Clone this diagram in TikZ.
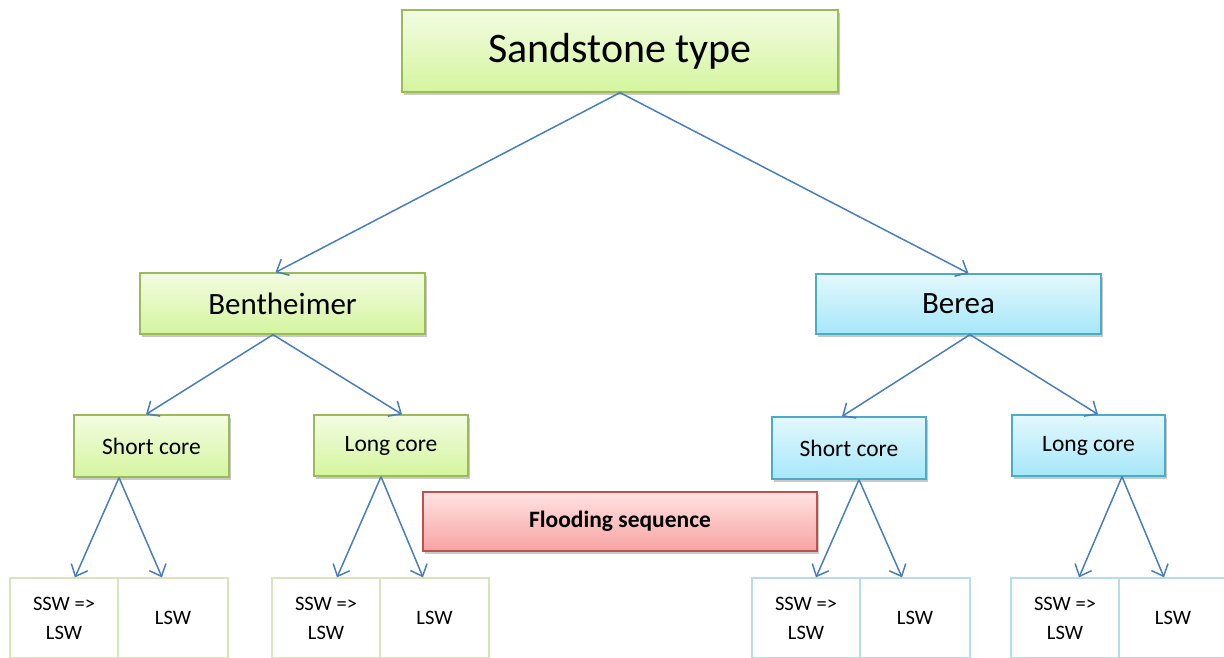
\documentclass[tikz,border=0pt]{standalone}
\usepackage{fontspec}
\setmainfont{Carlito}
\usetikzlibrary{arrows.meta,shadows}
\definecolor{gBord}{HTML}{9BBB59}
\definecolor{gTop}{HTML}{F3FCE2}
\definecolor{gBot}{HTML}{D4F59E}
\definecolor{bBord}{HTML}{4BACC6}
\definecolor{bTop}{HTML}{E3F8FD}
\definecolor{bBot}{HTML}{A6E7F9}
\definecolor{rBord}{HTML}{C0504D}
\definecolor{rTop}{HTML}{FFE3E3}
\definecolor{rBot}{HTML}{F8A2A2}
\definecolor{arr}{HTML}{4A7EBB}
\definecolor{gLight}{HTML}{D7E4BD}
\definecolor{bLight}{HTML}{B7DEE8}
\tikzset{
  box/.style={draw, line width=1.3pt, inner sep=0pt, align=center,
    drop shadow={shadow xshift=2pt, shadow yshift=-3pt, opacity=0.3, fill=black!70}},
  gbox/.style={box, draw=gBord, top color=gTop, bottom color=gBot},
  bbox/.style={box, draw=bBord, top color=bTop, bottom color=bBot},
  rbox/.style={box, draw=rBord, top color=rTop, bottom color=rBot},
  cell/.style={draw, line width=1.3pt, fill=white, inner sep=0pt, align=center,
    minimum width=108pt, minimum height=80pt,
    font=\fontsize{20.5}{29}\selectfont},
  gcell/.style={cell, draw=gLight},
  bcell/.style={cell, draw=bLight},
  conn/.style={draw=arr, line width=1.5pt, -{Straight Barb[length=10pt,width=18pt]}},
  big/.style={font=\fontsize{42}{50}\selectfont},
  mid/.style={font=\fontsize{31}{37}\selectfont},
  small/.style={font=\fontsize{23.5}{28}\selectfont},
  flood/.style={font=\bfseries\fontsize{23.5}{28}\selectfont}
}
\begin{document}
\begin{tikzpicture}[x=1pt,y=-1pt]
\useasboundingbox (0,0) rectangle (1224,657);
\clip (0,0) rectangle (1224,657);
\node[gbox, big, minimum width=436pt, minimum height=82pt] (top) at (620,51) {Sandstone type};
\node[gbox, mid, minimum width=285pt, minimum height=61pt] (bent) at (282.5,303.5) {Bentheimer};
\node[bbox, mid, minimum width=285pt, minimum height=60pt] (berea) at (958.5,304) {Berea};
\node[gbox, small, minimum width=155pt, minimum height=62pt] (sc1) at (151.5,446) {Short core};
\node[gbox, small, minimum width=154pt, minimum height=61pt] (lc1) at (391,445.5) {Long core};
\node[bbox, small, minimum width=154pt, minimum height=62pt] (sc2) at (849,448) {Short core};
\node[bbox, small, minimum width=153pt, minimum height=61pt] (lc2) at (1088.5,445.5) {Long core};
\node[rbox, flood, minimum width=394pt, minimum height=59pt] (fl) at (620,521.5) {Flooding sequence};

\node[gcell] (c1a) at (64,618) {SSW =>\\LSW};
\node[gcell, minimum width=110pt] (c1b) at (173,618) {LSW};
\node[gcell] (c2a) at (326,618) {SSW =>\\LSW};
\node[gcell, minimum width=109pt] (c2b) at (434.5,618) {LSW};
\node[bcell] (c3a) at (806,618) {SSW =>\\LSW};
\node[bcell, minimum width=110pt] (c3b) at (915,618) {LSW};
\node[bcell] (c4a) at (1065,618) {SSW =>\\LSW};
\node[bcell] (c4b) at (1173,618) {LSW};

\draw[conn] (top.south) -- ([xshift=-7pt]bent.north);
\draw[conn] (top.south) -- ([xshift=10pt]berea.north);
\draw[conn] ([xshift=-9.5pt]bent.south) -- ([xshift=-5.5pt]sc1.north);
\draw[conn] ([xshift=-9.5pt]bent.south) -- ([xshift=11pt]lc1.north);
\draw[conn] ([xshift=11.5pt]berea.south) -- ([xshift=-7pt]sc2.north);
\draw[conn] ([xshift=11.5pt]berea.south) -- ([xshift=9.5pt]lc2.north);
\draw[conn] ([xshift=-32.5pt]sc1.south) -- ([xshift=11pt]c1a.north);
\draw[conn] ([xshift=-32.5pt]sc1.south) -- ([xshift=-11pt]c1b.north);
\draw[conn] ([xshift=-10pt]lc1.south) -- ([xshift=11pt]c2a.north);
\draw[conn] ([xshift=-10pt]lc1.south) -- ([xshift=-11.5pt]c2b.north);
\draw[conn] ([xshift=10pt]sc2.south) -- ([xshift=10pt]c3a.north);
\draw[conn] ([xshift=10pt]sc2.south) -- ([xshift=-13pt]c3b.north);
\draw[conn] ([xshift=33.5pt]lc2.south) -- ([xshift=14pt]c4a.north);
\draw[conn] ([xshift=33.5pt]lc2.south) -- ([xshift=-9pt]c4b.north);
\end{tikzpicture}
\end{document}
